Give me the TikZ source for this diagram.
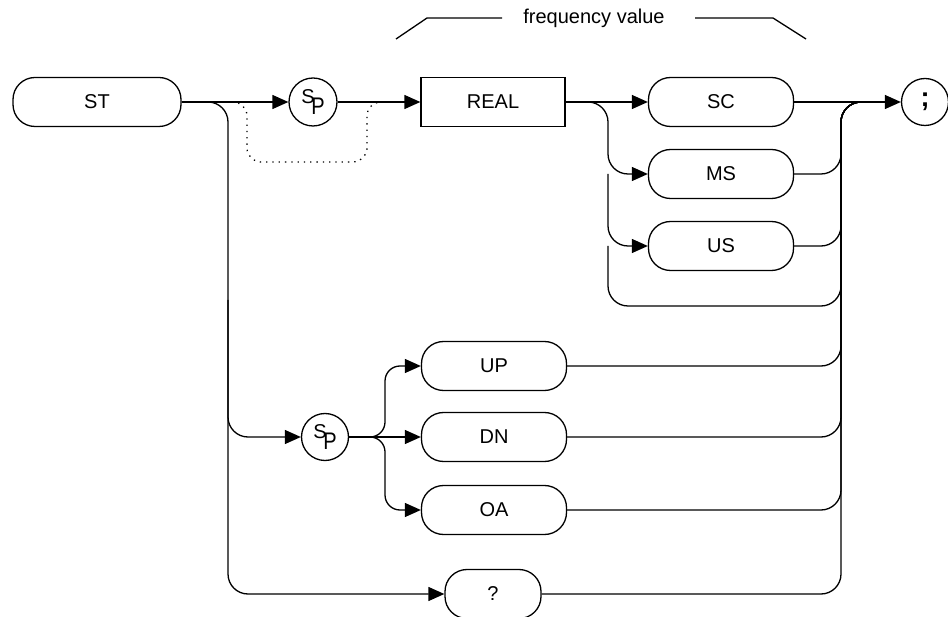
\documentclass[tikz,border=0pt]{standalone}
\usepackage{fontspec}
\setmainfont{Liberation Sans}
\usetikzlibrary{arrows.meta}
\newcommand{\spsym}{\raisebox{5pt}{S}\kern-3.5pt\raisebox{-6pt}{\scalebox{1}[1.2]{P}}}
\begin{document}
\begin{tikzpicture}[x=1pt,y=-1pt,
  line width=1.3pt,
  font=\fontsize{20}{24}\selectfont,
  pill/.style={draw, rounded corners=22pt, minimum width=145pt, minimum height=49pt, inner sep=0pt},
  box/.style={draw, minimum width=144pt, minimum height=49pt, inner sep=0pt},
  disc/.style={draw, circle, minimum size=47pt, inner sep=0pt},
  arr/.style={-{Triangle[length=16pt,width=14pt]}},
  rc/.style={rounded corners=20pt},
  dots/.style={dash pattern=on 1.3pt off 5pt, rounded corners=14pt}]
\useasboundingbox (0,0) rectangle (948,617);
% nodes
\node[pill, minimum width=168pt] (st) at (97,102) {ST};
\node[disc, minimum size=48pt] (sp1) at (313,102) {\spsym};
\node[box] (real) at (493,102) {REAL};
\node[pill] (sc) at (721,102) {SC};
\node[pill] (ms) at (721,174) {MS};
\node[pill] (us) at (721,246) {US};
\node[disc] (semi) at (925,102) {\fontsize{27}{30}\selectfont\textbf{;}};
\node[disc] (sp2) at (325,437) {\spsym};
\node[pill] (up) at (494,366) {UP};
\node[pill] (dn) at (494,437) {DN};
\node[pill] (oa) at (494,510) {OA};
\node[pill, minimum width=96pt] (q) at (493,594) {?};
\node (fv) at (594,18) {frequency value};
% coordinates
\coordinate (b1) at (228,102);
\coordinate (b1a) at (228,437);
\coordinate (b1b) at (228,594);
\coordinate (b1m) at (228,300);
\coordinate (d0) at (232,102);
\coordinate (d1) at (247,102);
\coordinate (d2) at (247,162);
\coordinate (d3) at (367,162);
\coordinate (d4) at (367,102);
\coordinate (d5) at (383,102);
\coordinate (b2) at (608,102);
\coordinate (b2m) at (608,174);
\coordinate (b2u) at (608,246);
\coordinate (b2b) at (608,306);
\coordinate (r0) at (841,102);
\coordinate (r1) at (872,102);
\coordinate (f1) at (385,437);
\coordinate (br1) at (396,39);
\coordinate (br2) at (427,18);
\coordinate (br3) at (502,18);
\coordinate (br4) at (695,18);
\coordinate (br5) at (773,18);
\coordinate (br6) at (806,39);
% connectors
\draw[arr] (st.east) -- (sp1.west);
\draw[rc, arr] (st.east) -- (b1) -- (b1b) -- (q.west);
\draw[rc, arr] (b1m) -- (b1a) -- (sp2.west);
\draw[dots] (d0) -- (d1) -- (d2) -- (d3) -- (d4) -- (d5);
\draw[arr] (sp1.east) -- (real.west);
\draw[arr] (real.east) -- (sc.west);
\draw[rc, arr] (real.east) -- (b2) -- (b2m) -- (ms.west);
\draw[rc, arr] (b2m) -- (b2u) -- (us.west);
\draw[rc] (b2u) -- (b2b) -- (841,306) -- (r0) -- (r1);
\draw[arr] (sc.east) -- (semi.west);
\draw[rc] (ms.east) -- (841,174) -- (r0) -- (r1);
\draw[rc] (us.east) -- (841,246) -- (r0) -- (r1);
\draw[rc] (up.east) -- (841,366) -- (r0) -- (r1);
\draw[rc] (dn.east) -- (841,437) -- (r0) -- (r1);
\draw[rc] (oa.east) -- (841,510) -- (r0) -- (r1);
\draw[rc] (q.east) -- (841,594) -- (r0) -- (r1);
\draw[arr] (sp2.east) -- (dn.west);
\draw[rounded corners=15pt, arr] (sp2.east) -- (f1) -- (385,366) -- (up.west);
\draw[rounded corners=15pt, arr] (sp2.east) -- (f1) -- (385,510) -- (oa.west);
\draw (br1) -- (br2) -- (br3);
\draw (br4) -- (br5) -- (br6);
\end{tikzpicture}
\end{document}
